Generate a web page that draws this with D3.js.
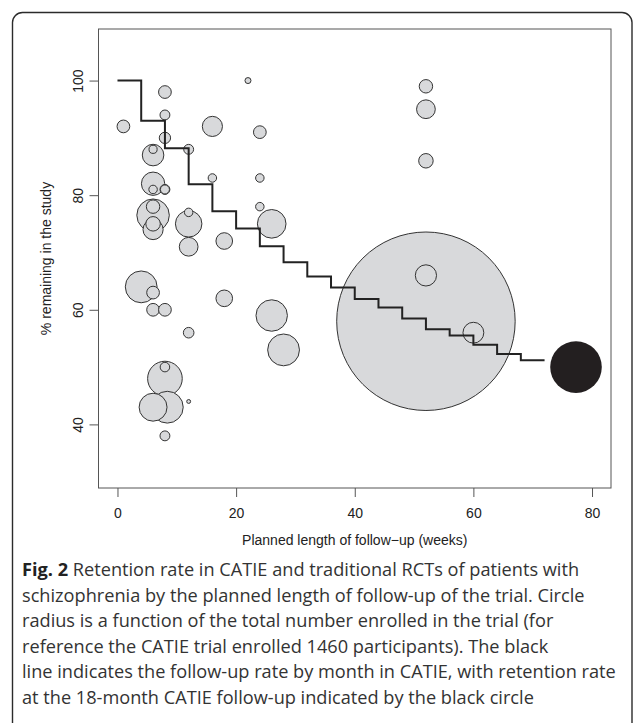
<!DOCTYPE html>
<html>
<head>
<meta charset="utf-8">
<script src="https://cdn.jsdelivr.net/npm/d3@7"></script>
<style>
  body { margin: 0; background: #fff; }
  svg { display: block; }
</style>
</head>
<body>
<div id="chart"></div>
<script>
// traditional RCTs: planned follow-up (weeks), % remaining, number enrolled
const trialWeeks = [1, 4, 6, 6, 6, 6, 6, 6, 6, 6, 6, 6, 6, 8, 8, 8, 8, 8, 8, 8, 8, 8.4, 8,
  12, 12, 12, 12, 12, 12, 16, 16, 18, 18, 22, 24, 24, 24, 26, 26, 28,
  52, 52, 52, 52, 52, 60];
const trialRetained = [92, 64, 88, 87, 82, 81, 78, 76.5, 75, 74, 63, 60, 43, 98, 94, 90, 81, 81, 60, 50, 48, 43, 38,
  88, 77, 75, 71, 56, 44, 92, 83, 72, 62, 100, 91, 83, 78, 75, 59, 53,
  99, 95, 86, 66, 58, 56];
const trialEnrolled = [360, 900, 230, 610, 660, 240, 380, 920, 410, 570, 360, 360, 790, 360, 280, 320, 280, 255, 360, 270, 980, 900, 280,
  280, 240, 750, 530, 300, 110, 570, 240, 470, 470, 170, 360, 240, 240, 810, 890, 900,
  380, 530, 410, 600, 5050, 590];

// CATIE retention by month (start week of each month, %)
const catieWeeks = [0, 4, 8, 12, 16, 20, 24, 28, 32, 36, 40, 44, 48, 52, 56, 60, 64, 68, 72];
const catieRate = [100, 93, 88.2, 81.9, 77.2, 74.2, 71.1, 68.3, 65.8, 63.9, 61.9, 60.4, 58.5, 56.6, 55.5, 53.9, 52.3, 51.2, 51.2];

// 18-month CATIE follow-up
const catieFinalWeek = 77.3;
const catieFinalRate = 50;
const catieEnrolled = 1460;

const xTicks = [0, 20, 40, 60, 80];
const yTicks = [40, 60, 80, 100];

const margin = { top: 29, right: 22, bottom: 235, left: 98.5 },
  width = 633 - margin.left - margin.right,
  height = 723 - margin.top - margin.bottom;

const svg = d3
  .select("#chart")
  .append("svg")
  .attr("width", 633)
  .attr("height", 723);

// rounded figure frame
svg
  .append("rect")
  .attr("x", 12.5)
  .attr("y", 12.5)
  .attr("width", 619.5)
  .attr("height", 740)
  .attr("rx", 10)
  .attr("fill", "none")
  .attr("stroke", "#2b2b2b")
  .attr("stroke-width", 1.4);

const g = svg
  .append("g")
  .attr("transform", `translate(${margin.left}, ${margin.top})`);

const x = d3.scaleLinear().domain([-3.2, 83.2]).range([0, width]);
const y = d3.scaleLinear().domain([28.9, 109.0]).range([height, 0]);
const r = d3.scaleLinear().domain([0, catieEnrolled]).range([0, 25.8]);

const trials = trialWeeks.map((w, i) => ({
  week: w,
  rate: trialRetained[i],
  n: trialEnrolled[i],
}));
// big circles first so small ones stay visible
trials.sort((a, b) => b.n - a.n);

g.selectAll("circle.trial")
  .data(trials)
  .join("circle")
  .attr("class", "trial")
  .attr("cx", (d) => x(d.week))
  .attr("cy", (d) => y(d.rate))
  .attr("r", (d) => r(d.n))
  .attr("fill", "#d8d9db")
  .attr("stroke", "#333")
  .attr("stroke-width", 1);

// CATIE step line
const stepLine = d3
  .line()
  .x((d, i) => x(catieWeeks[i]))
  .y((d) => y(d))
  .curve(d3.curveStepAfter);

g.append("path")
  .datum(catieRate)
  .attr("d", stepLine)
  .attr("fill", "none")
  .attr("stroke", "#222")
  .attr("stroke-width", 2);

g.append("circle")
  .attr("cx", x(catieFinalWeek))
  .attr("cy", y(catieFinalRate))
  .attr("r", r(catieEnrolled))
  .attr("fill", "#231f20");

// plot box
g.append("rect")
  .attr("width", width)
  .attr("height", height)
  .attr("fill", "none")
  .attr("stroke", "#555")
  .attr("stroke-width", 1);

const tickFont = "'Liberation Sans', Arial, sans-serif";

const xAxis = g
  .append("g")
  .attr("transform", `translate(0, ${height})`)
  .call(d3.axisBottom(x).tickValues(xTicks).tickSize(9).tickPadding(11));
xAxis.select(".domain").remove();
xAxis.selectAll("line").attr("stroke", "#555");
xAxis
  .selectAll("text")
  .style("font-family", tickFont)
  .style("font-size", "14px")
  .attr("fill", "#222");

const yAxis = g
  .append("g")
  .call(d3.axisLeft(y).tickValues(yTicks).tickSize(9));
yAxis.select(".domain").remove();
yAxis.selectAll("line").attr("stroke", "#555");
yAxis
  .selectAll("text")
  .attr("x", 0)
  .attr("dy", 0)
  .attr("transform", "translate(-16, 0) rotate(-90)")
  .attr("text-anchor", "middle")
  .style("font-family", tickFont)
  .style("font-size", "14px")
  .attr("fill", "#222");

// axis titles
g.append("text")
  .attr("x", width / 2)
  .attr("y", height + 57)
  .attr("text-anchor", "middle")
  .style("font-family", tickFont)
  .style("font-size", "14px")
  .attr("fill", "#222")
  .text("Planned length of follow\u2212up (weeks)");

g.append("text")
  .attr("transform", `translate(-48, ${height / 2}) rotate(-90)`)
  .attr("text-anchor", "middle")
  .style("font-family", tickFont)
  .style("font-size", "14px")
  .attr("fill", "#222")
  .text("% remaining in the study");

// caption
const captionLines = [
  "Retention rate in CATIE and traditional RCTs of patients with",
  "schizophrenia by the planned length of follow-up of the trial. Circle",
  "radius is a function of the total number enrolled in the trial (for",
  "reference the CATIE trial enrolled 1460 participants). The black",
  "line indicates the follow-up rate by month in CATIE, with retention rate",
  "at the 18-month CATIE follow-up indicated by the black circle",
];

const caption = svg
  .append("text")
  .attr("x", 22)
  .attr("y", 576)
  .style("font-family", "'Open Sans', 'Noto Sans', sans-serif")
  .style("font-size", "16px")
  .attr("fill", "#333");

const rows = captionLines.map((line, i) => {
  const row = caption
    .append("tspan")
    .attr("x", 22)
    .attr("dy", i === 0 ? 0 : 25.5);
  if (i === 0) {
    row
      .append("tspan")
      .style("font-weight", "bold")
      .attr("fill", "#222")
      .text("Fig. 2 ");
  }
  row.append("tspan").text(line);
  return row;
});

// scale caption so the longest line spans the frame like the original
const longest = d3.max(rows, (row) => row.node().getComputedTextLength());
caption.style("font-size", (16 * 594 / longest).toFixed(2) + "px");
</script>
</body>
</html>
